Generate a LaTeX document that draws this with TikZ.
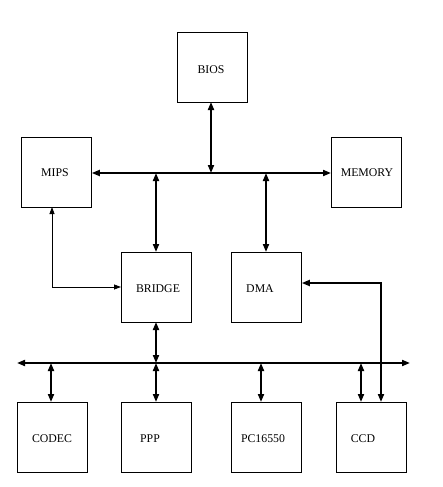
\documentclass[tikz,border=0pt]{standalone}
\usepackage{fontspec}
\setmainfont{Liberation Serif}
\usetikzlibrary{arrows.meta}
\begin{document}
\begin{tikzpicture}[x=1pt,y=-1pt,
  blk/.style={draw,line width=0.8pt,minimum width=70pt,minimum height=70pt,inner sep=0pt,anchor=north west},
  lbl/.style={font=\fontsize{11.8}{13}\selectfont},
  bus/.style={line width=1.8pt,{Triangle[length=8pt,width=6pt]}-{Triangle[length=8pt,width=6pt]}},
  thin/.style={line width=0.8pt,{Triangle[length=7pt,width=5pt]}-{Triangle[length=7pt,width=5pt]}}]
\fill[white] (0,0) rectangle (442,487);
\useasboundingbox (0,0) rectangle (442,487);
% boxes
\node[blk] (bios) at (177,32) {};
\node[blk] (mips) at (21,137) {};
\node[blk] (mem) at (331,137) {};
\node[blk] (bridge) at (121,252) {};
\node[blk] (dma) at (231,252) {};
\node[blk] (codec) at (17,402) {};
\node[blk] (ppp) at (121,402) {};
\node[blk] (pc) at (231,402) {};
\node[blk] (ccd) at (336,402) {};
% labels
\node[lbl] (tbios) at (211,70) {BIOS};
\node[lbl] (tmips) at (55,173) {MIPS};
\node[lbl] (tmem) at (367,173) {MEMORY};
\node[lbl] (tbridge) at (158,289) {BRIDGE};
\node[lbl] (tdma) at (260,289) {DMA};
\node[lbl] (tcodec) at (52,439) {CODEC};
\node[lbl] (tppp) at (150,439) {PPP};
\node[lbl] (tpc) at (263,439) {PC16550};
\node[lbl] (tccd) at (363,439) {CCD};
% bus coordinates
\coordinate (ub) at (211,173);
\coordinate (lbL) at (17,363);
\coordinate (lbR) at (410,363);
% upper bus
\draw[bus] (mips.east |- ub) -- (mem.west |- ub);
\draw[bus] (211,102) -- (ub);
\draw[bus] (156,173) -- (156,252);
\draw[bus] (266,173) -- (266,252);
% lower bus
\draw[bus] (lbL) -- (lbR);
\draw[bus] (156,322) -- (156,363);
\draw[bus] (51,363) -- (51,402);
\draw[bus] (156,363) -- (156,402);
\draw[bus] (261,363) -- (261,402);
\draw[bus] (361,363) -- (361,402);
% DMA to CCD
\draw[bus] (dma.east |- 0,283) -- (381,283) -- (381,402);
% MIPS to BRIDGE
\draw[thin] (52,207) -- (52,287) -- (121,287);
\end{tikzpicture}
\end{document}
